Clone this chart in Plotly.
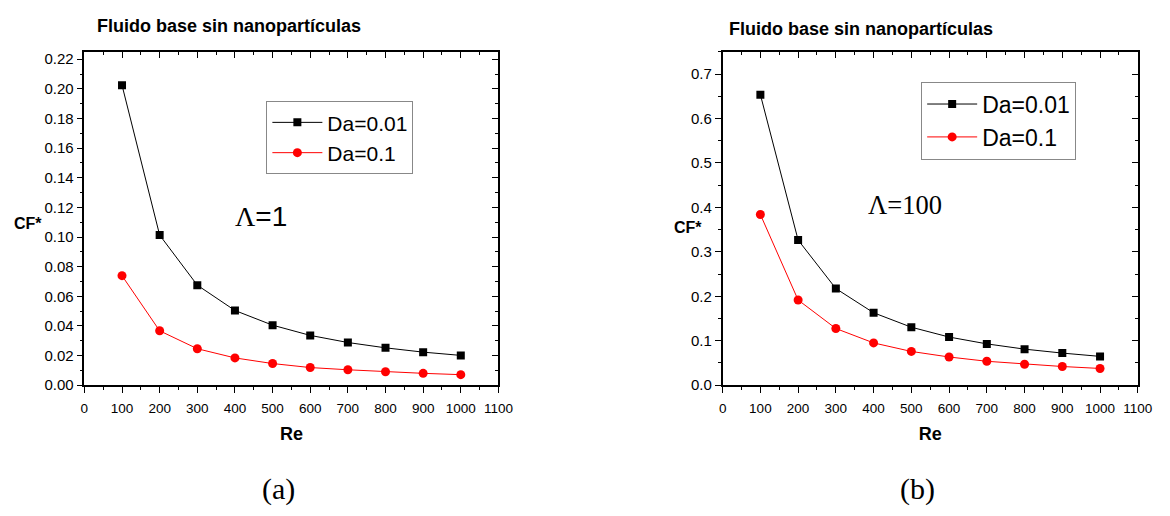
import plotly.graph_objects as go

# ---- data ----
re_vals = [100, 200, 300, 400, 500, 600, 700, 800, 900, 1000]

# (a) Lambda = 1
a_da001 = [0.2025, 0.1013, 0.0675, 0.0504, 0.0405, 0.0336, 0.0288, 0.0252, 0.0223, 0.0201]
a_da01 = [0.0739, 0.0367, 0.0246, 0.0184, 0.0146, 0.0119, 0.0104, 0.0091, 0.0080, 0.0071]

# (b) Lambda = 100
b_da001 = [0.6536, 0.3265, 0.2174, 0.1629, 0.1304, 0.1083, 0.0929, 0.0811, 0.0722, 0.0648]
b_da01 = [0.3840, 0.1916, 0.1275, 0.0951, 0.0759, 0.0634, 0.0538, 0.0472, 0.0420, 0.0376]

series_names = ["Da=0.01", "Da=0.1"]
panel_titles = ["Fluido base sin nanopartículas", "Fluido base sin nanopartículas"]
panel_labels = ["(a)", "(b)"]

W, H = 1170, 516
SANS = "Liberation Sans, Arial, sans-serif"
SERIF = "Liberation Serif, Times New Roman, serif"

fig = go.Figure()

def px_x(x):
    return x / W

def px_y(y):
    return 1 - y / H

y_dom = [px_y(391), px_y(51.7)]
dom_a = [px_x(81.7), px_x(502.6)]
dom_b = [px_x(730.5), px_x(1152.5)]

# traces panel a
fig.add_trace(go.Scatter(x=re_vals, y=a_da001, name=series_names[0], mode="lines+markers",
                         line=dict(color="black", width=1),
                         marker=dict(symbol="square", size=8, color="black"),
                         xaxis="x", yaxis="y", legend="legend"))
fig.add_trace(go.Scatter(x=re_vals, y=a_da01, name=series_names[1], mode="lines+markers",
                         line=dict(color="red", width=1),
                         marker=dict(symbol="circle", size=9, color="red"),
                         xaxis="x", yaxis="y", legend="legend"))
# traces panel b
fig.add_trace(go.Scatter(x=re_vals, y=b_da001, name=series_names[0], mode="lines+markers",
                         line=dict(color="black", width=1),
                         marker=dict(symbol="square", size=8, color="black"),
                         xaxis="x2", yaxis="y2", legend="legend2"))
fig.add_trace(go.Scatter(x=re_vals, y=b_da01, name=series_names[1], mode="lines+markers",
                         line=dict(color="red", width=1),
                         marker=dict(symbol="circle", size=9, color="red"),
                         xaxis="x2", yaxis="y2", legend="legend2"))

# invisible traces for mirror (inside ticks) axes
fig.add_trace(go.Scatter(x=[None], y=[None], xaxis="x3", yaxis="y3", showlegend=False, hoverinfo="skip"))
fig.add_trace(go.Scatter(x=[None], y=[None], xaxis="x4", yaxis="y4", showlegend=False, hoverinfo="skip"))

xtickfont = dict(family=SANS, size=13.5, color="black")
ytickfont = dict(family=SANS, size=15, color="black")

def xaxis_cfg(domain, anchor):
    return dict(domain=domain, anchor=anchor, range=[0, 1100], dtick=100, tick0=0,
                showgrid=False, zeroline=False, showline=True, linecolor="black", linewidth=1.5,
                mirror=True, ticks="outside", ticklen=6, tickwidth=1.2, tickcolor="black",
                minor=dict(dtick=50, ticks="outside", ticklen=3, tickwidth=1, tickcolor="black", showgrid=False),
                tickfont=xtickfont, ticklabelstandoff=4,
                title=dict(text="<b>Re</b>", font=dict(family=SANS, size=18, color="black"), standoff=12))

def yaxis_cfg(domain, anchor, rng, dtick, fmt):
    return dict(domain=domain, anchor=anchor, range=rng, dtick=dtick, tick0=0,
                showgrid=False, zeroline=False, showline=True, linecolor="black", linewidth=1.5,
                mirror=True, ticks="outside", ticklen=6, tickwidth=1.2, tickcolor="black",
                minor=dict(dtick=dtick / 2, ticks="outside", ticklen=3, tickwidth=1, tickcolor="black", showgrid=False),
                tickformat=fmt, tickfont=ytickfont)

def mirror_x(domain, anchor, over):
    return dict(domain=domain, anchor=anchor, side="top", overlaying=over, range=[0, 1100], dtick=100, tick0=0,
                showgrid=False, zeroline=False, showline=False, showticklabels=False,
                ticks="inside", ticklen=6, tickwidth=1.2, tickcolor="black",
                minor=dict(dtick=50, ticks="inside", ticklen=3, tickwidth=1, tickcolor="black", showgrid=False))

def mirror_y(domain, anchor, over, rng, dtick):
    return dict(domain=domain, anchor=anchor, side="right", overlaying=over, range=rng, dtick=dtick, tick0=0,
                showgrid=False, zeroline=False, showline=False, showticklabels=False,
                ticks="inside", ticklen=6, tickwidth=1.2, tickcolor="black",
                minor=dict(dtick=dtick / 2, ticks="inside", ticklen=3, tickwidth=1, tickcolor="black", showgrid=False))

fig.update_layout(
    width=W, height=H,
    margin=dict(l=0, r=0, t=0, b=0),
    paper_bgcolor="white", plot_bgcolor="white",
    xaxis=xaxis_cfg(dom_a, "y"),
    yaxis=yaxis_cfg(y_dom, "x", [0, 0.225], 0.02, ".2f"),
    xaxis2=xaxis_cfg(dom_b, "y2"),
    yaxis2=yaxis_cfg(y_dom, "x2", [0, 0.75], 0.1, ".1f"),
    xaxis3=mirror_x(dom_a, "y3", "x"),
    yaxis3=mirror_y(y_dom, "x3", "y", [0, 0.225], 0.02),
    xaxis4=mirror_x(dom_b, "y4", "x2"),
    yaxis4=mirror_y(y_dom, "x4", "y2", [0, 0.75], 0.1),
    legend=dict(x=px_x(266.7), y=px_y(102), xanchor="left", yanchor="top",
                bordercolor="#888888", borderwidth=1, bgcolor="white", itemwidth=50,
                font=dict(family=SANS, size=21, color="black"), tracegroupgap=0),
    legend2=dict(x=px_x(932.3), y=px_y(82), xanchor="left", yanchor="top",
                 bordercolor="#888888", borderwidth=1, bgcolor="white", itemwidth=50,
                 font=dict(family=SANS, size=23, color="black"), tracegroupgap=0),
    showlegend=True,
)

annotations = [
    dict(text="<b>" + panel_titles[0] + "</b>", x=px_x(92), y=px_y(25), xanchor="left", yanchor="middle",
         font=dict(family=SANS, size=18, color="black")),
    dict(text="<b>" + panel_titles[1] + "</b>", x=px_x(735), y=px_y(29), xanchor="left", yanchor="middle",
         font=dict(family=SANS, size=18, color="black")),
    dict(text="<b>CF*</b>", x=px_x(24), y=px_y(226), xanchor="center", yanchor="middle",
         font=dict(family=SANS, size=16, color="black")),
    dict(text="<b>CF*</b>", x=px_x(695), y=px_y(231), xanchor="center", yanchor="middle",
         font=dict(family=SANS, size=16, color="black")),
    dict(text="<span style='font-family:" + SERIF + "'>Λ</span>=1", x=px_x(261), y=px_y(219),
         xanchor="center", yanchor="middle", font=dict(family=SANS, size=28, color="black")),
    dict(text="Λ=100", x=px_x(916), y=px_y(208), xanchor="center", yanchor="middle",
         font=dict(family=SERIF, size=26.5, color="black")),
    dict(text=panel_labels[0], x=px_x(279), y=px_y(497), xanchor="center", yanchor="middle",
         font=dict(family=SERIF, size=30, color="black")),
    dict(text=panel_labels[1], x=px_x(929), y=px_y(497), xanchor="center", yanchor="middle",
         font=dict(family=SERIF, size=30, color="black")),
]
for a in annotations:
    a.update(xref="paper", yref="paper", showarrow=False)
fig.update_layout(annotations=annotations)

fig.write_html("out.html")
